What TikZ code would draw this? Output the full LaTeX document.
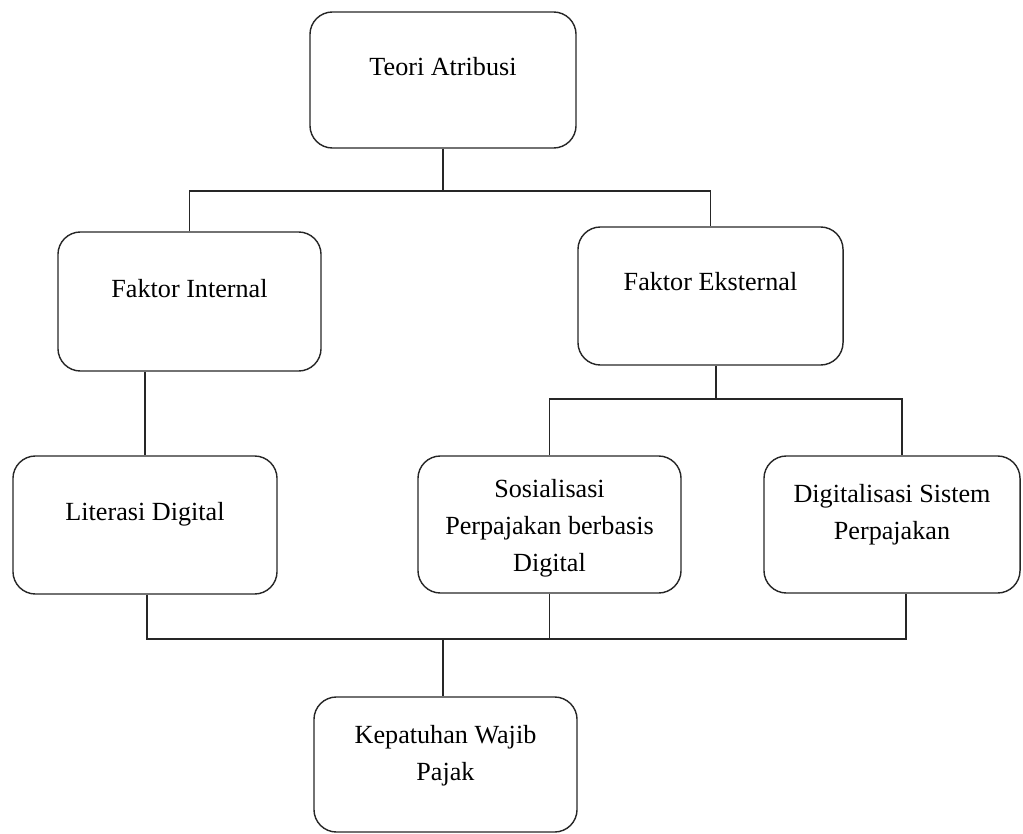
\documentclass[tikz,border=0pt]{standalone}
\usepackage{fontspec}
\setmainfont{Liberation Serif}
\usepackage{tikz}
\tikzset{
    boxnode/.style={draw=black!85, rectangle, rounded corners=16pt, line width=1pt, inner sep=0pt, anchor=center},
    boxtext/.style={font=\fontsize{18.6}{26.3}\selectfont, align=center, inner sep=0pt},
    conn/.style={line width=1pt, black!85} }
\usetikzlibrary{calc}

\begin{document}
\begin{tikzpicture}[x=0.025cm, y=-0.025cm]
			\useasboundingbox (0,0) rectangle (1023,833);
			\node[boxnode, minimum width=6.65cm, minimum height=3.4cm] (teori) at (443,80) {};
			\node[boxnode, minimum width=6.575cm, minimum height=3.475cm] (internal) at (189.5,301.5) {};
			\node[boxnode, minimum width=6.625cm, minimum height=3.45cm] (eksternal) at (710.5,296) {};
			\node[boxnode, minimum width=6.6cm, minimum height=3.45cm] (literasi) at (145,525) {};
			\node[boxnode, minimum width=6.575cm, minimum height=3.425cm] (sosial) at (549.5,524.5) {};
			\node[boxnode, minimum width=6.4cm, minimum height=3.425cm] (digital) at (892,524.5) {};
			\node[boxnode, minimum width=6.575cm, minimum height=3.375cm] (kepatuhan) at (445.5,764.5) {};
			% ----
			\node[boxtext, anchor=base] (teoritxt) at (443,76) {Teori Atribusi};
			\node[boxtext, anchor=base] (internaltxt) at (189.5,297) {Faktor Internal};
			\node[boxtext, anchor=base] (eksternaltxt) at (710.5,290) {Faktor Eksternal};
			\node[boxtext, anchor=base] (literasitxt) at (145,520) {Literasi Digital};
			\node[boxtext] (sosialtxt) at (549.5,528) {Sosialisasi\\Perpajakan berbasis\\Digital};
			\node[boxtext] (digitaltxt) at (892,514.5) {Digitalisasi Sistem\\Perpajakan};
			\node[boxtext] (kepatuhantxt) at (445.5,755.5) {Kepatuhan Wajib\\Pajak};
			% ----
			\coordinate (tj) at (443,191);
			\coordinate (ej) at (716,399);
			\coordinate (dj) at (902,399);
			\coordinate (bl) at (147,639);
			\coordinate (bj) at (443,639);
			\coordinate (br) at (906,639);
			\draw[conn] (teori) -- (tj);
			\draw[conn] (internal.north) |- (tj) -| (eksternal.north);
			\draw[conn] (internal.south -| literasi.north) -- (literasi.north);
			\draw[conn] (eksternal.south -| ej) -- (ej);
			\draw[conn] (sosial.north) |- (ej) -- (dj) -- (dj |- digital.north);
			\draw[conn] (literasi.south -| bl) -- (bl) -- (br) -- (br |- digital.south);
			\draw[conn] (sosial.south) -- (sosial.south |- bj);
			\draw[conn] (bj) -- (bj |- kepatuhan.north);
		\end{tikzpicture}
\end{document}
